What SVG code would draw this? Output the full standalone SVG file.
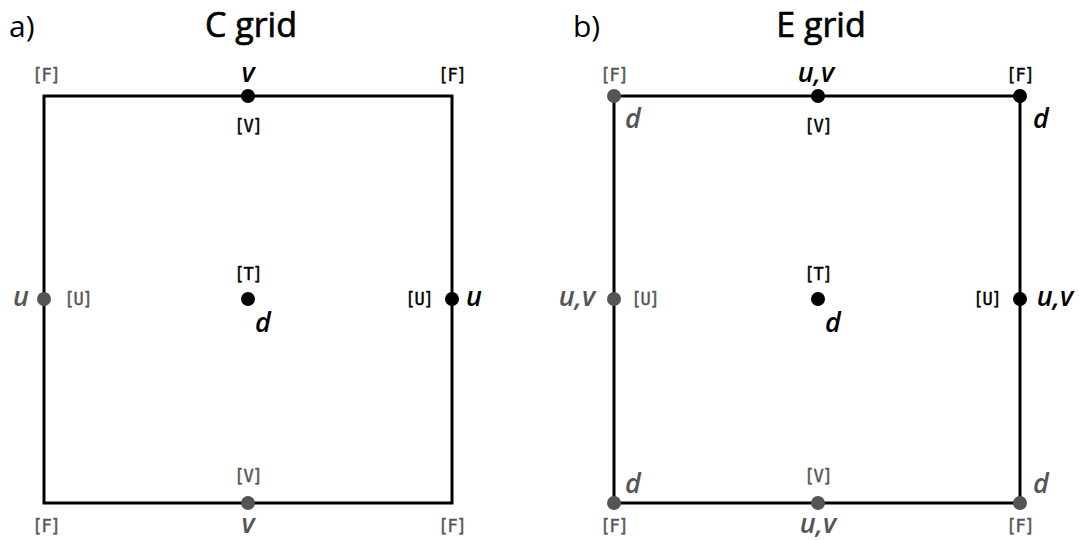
<svg xmlns="http://www.w3.org/2000/svg" width="1079" height="540" viewBox="0 0 1079 540">
<style>
.title{font-family:"Open Sans",sans-serif;font-size:34px;text-anchor:middle;fill:#000;stroke:#000;stroke-width:0.7px}
.pan{font-family:"Open Sans",sans-serif;font-size:30px;fill:#000}
.lab{font-family:"DejaVu Sans Mono",monospace;font-size:17px;letter-spacing:-1px;text-anchor:middle;stroke-width:0.4px}
.var{font-family:"Open Sans",sans-serif;font-size:27px;font-style:italic;font-weight:600;text-anchor:middle}
.k{fill:#000}
.g{fill:#555}
.lab.k{stroke:#000}
.lab.g{stroke:#555}
.edge{fill:none;stroke:#000;stroke-width:3}
</style>
<rect width="1079" height="540" fill="#fff"/>
<text class="pan" x="9" y="37">a)</text>
<text class="title" x="251" y="37">C grid</text>
<text class="pan" x="573" y="37">b)</text>
<text class="title" x="821" y="37">E grid</text>
<g id="connectors">
<rect class="edge" x="44" y="96" width="408" height="407"/>
<rect class="edge" x="614" y="96" width="406" height="407"/>
</g>
<g id="c-grid">
<g id="c-f-tl"><text class="lab g" x="46" y="81">[F]</text></g>
<g id="c-f-tr"><text class="lab k" x="452" y="81">[F]</text></g>
<g id="c-f-bl"><text class="lab g" x="46" y="532">[F]</text></g>
<g id="c-f-br"><text class="lab g" x="452" y="532">[F]</text></g>
<g id="c-v-top"><circle class="k" cx="248" cy="96" r="7"/><text class="var k" x="248" y="82">v</text><text class="lab k" x="248" y="132">[V]</text></g>
<g id="c-v-bot"><circle class="g" cx="248" cy="503" r="7"/><text class="var g" x="248" y="533">v</text><text class="lab g" x="248" y="482">[V]</text></g>
<g id="c-u-left"><circle class="g" cx="44" cy="299" r="7"/><text class="var g" x="21" y="306">u</text><text class="lab g" x="78" y="305">[U]</text></g>
<g id="c-u-right"><circle class="k" cx="452" cy="299" r="7"/><text class="var k" x="474" y="306">u</text><text class="lab k" x="419" y="305">[U]</text></g>
<g id="c-t"><circle class="k" cx="248" cy="299" r="7"/><text class="lab k" x="248" y="280">[T]</text><text class="var k" x="263" y="332">d</text></g>
</g>
<g id="e-grid">
<g id="e-f-tl"><circle class="g" cx="614" cy="96" r="7"/><text class="lab g" x="614" y="81">[F]</text><text class="var g" x="633" y="128">d</text></g>
<g id="e-f-tr"><circle class="k" cx="1020" cy="96" r="7"/><text class="lab k" x="1020" y="81">[F]</text><text class="var k" x="1041" y="128">d</text></g>
<g id="e-f-bl"><circle class="g" cx="614" cy="503" r="7"/><text class="lab g" x="614" y="532">[F]</text><text class="var g" x="633" y="493">d</text></g>
<g id="e-f-br"><circle class="g" cx="1020" cy="503" r="7"/><text class="lab g" x="1020" y="532">[F]</text><text class="var g" x="1041" y="493">d</text></g>
<g id="e-v-top"><circle class="k" cx="818" cy="96" r="7"/><text class="var k" x="816" y="82">u,v</text><text class="lab k" x="818" y="132">[V]</text></g>
<g id="e-v-bot"><circle class="g" cx="818" cy="503" r="7"/><text class="var g" x="818" y="533">u,v</text><text class="lab g" x="818" y="482">[V]</text></g>
<g id="e-u-left"><circle class="g" cx="614" cy="299" r="7"/><text class="var g" x="577" y="306">u,v</text><text class="lab g" x="645" y="305">[U]</text></g>
<g id="e-u-right"><circle class="k" cx="1020" cy="299" r="7"/><text class="var k" x="1055" y="306">u,v</text><text class="lab k" x="987" y="305">[U]</text></g>
<g id="e-t"><circle class="k" cx="818" cy="299" r="7"/><text class="lab k" x="818" y="280">[T]</text><text class="var k" x="833" y="332">d</text></g>
</g>
</svg>
